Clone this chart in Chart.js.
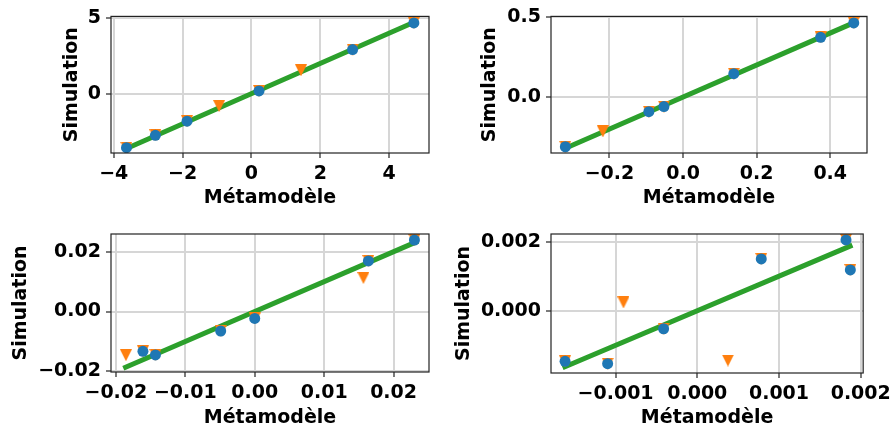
<!DOCTYPE html>
<html>
<head>
<meta charset="utf-8">
<script src="https://cdn.jsdelivr.net/npm/chart.js@4/dist/chart.umd.min.js"></script>
<style>
  body { margin: 0; background: #fff; }
  #wrap { position: relative; width: 896px; height: 430px; }
  #wrap canvas { position: absolute; }
</style>
</head>
<body>
<div id="wrap">
  <canvas id="c1" width="448" height="215" style="left:0;top:0"></canvas>
  <canvas id="c2" width="448" height="215" style="left:448px;top:0"></canvas>
  <canvas id="c3" width="448" height="215" style="left:0;top:215px"></canvas>
  <canvas id="c4" width="448" height="215" style="left:448px;top:215px"></canvas>
</div>
<script>
// ---- panel 1 ----
const p1CircleX = [-3.63, -2.79, -1.87, 0.22, 2.94, 4.72];
const p1CircleY = [-3.57, -2.75, -1.82, 0.18, 2.92, 4.68];
const p1TriX    = [-3.63, -2.79, -1.87, -0.94, 0.22, 1.44, 2.94, 4.72];
const p1TriY    = [-3.57, -2.75, -1.82, -0.82, 0.18, 1.55, 2.92, 4.68];
const p1LineX   = [-3.66, 4.74];
const p1LineY   = [-3.66, 4.74];
const p1XTicks  = [-4, -2, 0, 2, 4];
const p1YTicks  = [0, 5];

// ---- panel 2 ----
const p2CircleX = [-0.320, -0.093, -0.052, 0.138, 0.374, 0.464];
const p2CircleY = [-0.311, -0.092, -0.060, 0.146, 0.373, 0.463];
const p2TriX    = [-0.320, -0.218, -0.093, -0.052, 0.138, 0.374, 0.464];
const p2TriY    = [-0.311, -0.215, -0.092, -0.060, 0.146, 0.373, 0.463];
const p2LineX   = [-0.320, 0.465];
const p2LineY   = [-0.320, 0.465];
const p2XTicks  = [-0.2, 0.0, 0.2, 0.4];
const p2YTicks  = [0.0, 0.5];

// ---- panel 3 ----
const p3CircleX = [-0.0161, -0.0143, -0.0049, 0.0000, 0.01637, 0.0230];
const p3CircleY = [-0.0133, -0.0145, -0.0065, -0.0023, 0.0169, 0.0239];
const p3TriX    = [-0.01855, -0.0161, -0.0143, -0.0049, 0.0000, 0.01565, 0.01637, 0.0230];
const p3TriY    = [-0.0146, -0.0133, -0.0145, -0.0065, -0.0023, 0.0112, 0.0169, 0.0239];
const p3LineX   = [-0.0186, 0.0232];
const p3LineY   = [-0.0186, 0.0232];
const p3XTicks  = [-0.02, -0.01, 0.00, 0.01, 0.02];
const p3YTicks  = [-0.02, 0.00, 0.02];

// ---- panel 4 ----
const p4CircleX = [-0.001618, -0.001097, -0.000412, 0.000783, 0.00182, 0.001873];
const p4CircleY = [-0.001463, -0.00153, -0.00052, 0.00150, 0.00205, 0.00118];
const p4TriX    = [-0.001618, -0.001097, -0.000903, -0.000412, 0.000375, 0.000783, 0.00182, 0.001873];
const p4TriY    = [-0.001463, -0.00153, 0.00024, -0.00052, -0.00144, 0.00150, 0.00205, 0.00118];
const p4LineX   = [-0.00162, 0.00187];
const p4LineY   = [-0.00162, 0.00187];
const p4XTicks  = [-0.001, 0.000, 0.001, 0.002];
const p4YTicks  = [0.000, 0.002];

const xTitle = "Métamodèle";
const yTitle = "Simulation";

const BLUE = "#1f77b4", ORANGE = "#ff7f0e", GREEN = "#2ca02c";
const FONT = 19;

Chart.defaults.font.family = "'DejaVu Sans', sans-serif";
Chart.defaults.font.weight = "bold";
Chart.defaults.font.size = FONT;
Chart.defaults.color = "#000";

// matplotlib-like triangle_down: centred on its bounding box
function triangleDown(size, color) {
  const c = document.createElement("canvas");
  c.width = c.height = size;
  const g = c.getContext("2d");
  g.fillStyle = color;
  g.beginPath();
  g.moveTo(0, 0); g.lineTo(size, 0); g.lineTo(size / 2, size);
  g.closePath(); g.fill();
  return c;
}
const triImg = triangleDown(12, ORANGE);

const pts = (xs, ys) => xs.map((x, i) => ({ x, y: ys[i] }));
const fmt = (d) => (v) => v.toFixed(d).replace("-", "\u2212");

const frame = {
  id: "frame",
  afterDraw(chart) {
    const { ctx, chartArea: a } = chart;
    ctx.save();
    ctx.strokeStyle = "#222";
    ctx.lineWidth = 1.2;
    ctx.strokeRect(a.left, a.top, a.right - a.left, a.bottom - a.top);
    ctx.restore();
  },
};

function panel(id, o) {
  const pad = { left: o.titleX - FONT * 0.6, top: o.area[2], right: 448 - o.area[1], bottom: 215 - (o.titleY + FONT * 0.6) };
  const yW = o.area[0] - pad.left;
  const xH = (215 - pad.bottom) - o.area[3];
  const axis = (ticks, d, min, max, title, fit) => ({
    type: "linear", min, max,
    afterBuildTicks: (s) => { s.ticks = ticks.map((v) => ({ value: v })); },
    afterFit: fit,
    ticks: { autoSkip: false, maxRotation: 0, padding: 5, callback: fmt(d) },
    grid: { color: "#d6d6d6", lineWidth: 2, tickColor: "#222", tickLength: 5, tickWidth: 1.2 },
    border: { display: false },
    title: { display: true, text: title, padding: 0 },
  });
  new Chart(document.getElementById(id), {
    type: "scatter",
    data: {
      datasets: [
        { data: pts(o.lx, o.ly), showLine: true, borderColor: GREEN, borderWidth: 5, borderCapStyle: "square", pointRadius: 0, order: 3 },
        { data: pts(o.tx, o.ty), pointStyle: triImg, pointRadius: 6, backgroundColor: ORANGE, order: 2 },
        { data: pts(o.cx, o.cy), pointStyle: "circle", pointRadius: 5.5, borderWidth: 0, backgroundColor: BLUE, borderColor: BLUE, order: 1 },
      ],
    },
    options: {
      responsive: false, animation: false,
      layout: { padding: pad },
      plugins: { legend: { display: false }, tooltip: { enabled: false } },
      scales: {
        x: axis(o.xt, o.d, o.xr[0], o.xr[1], xTitle, (s) => { s.height = xH; }),
        y: axis(o.yt, o.d, o.yr[0], o.yr[1], yTitle, (s) => { s.width = yW; }),
      },
    },
    plugins: [frame],
  });
}

// area: [left, right, top, bottom] in canvas pixels
panel("c1", { cx: p1CircleX, cy: p1CircleY, tx: p1TriX, ty: p1TriY, lx: p1LineX, ly: p1LineY,
  xt: p1XTicks, yt: p1YTicks, d: 0, xr: [-4.08, 5.16], yr: [-3.92, 5.11],
  area: [111, 429, 14, 153], titleX: 72, titleY: 198 });
panel("c2", { cx: p2CircleX, cy: p2CircleY, tx: p2TriX, ty: p2TriY, lx: p2LineX, ly: p2LineY,
  xt: p2XTicks, yt: p2YTicks, d: 1, xr: [-0.359, 0.50], yr: [-0.35, 0.504],
  area: [103, 419, 14, 153], titleX: 42, titleY: 198 });
panel("c3", { cx: p3CircleX, cy: p3CircleY, tx: p3TriX, ty: p3TriY, lx: p3LineX, ly: p3LineY,
  xt: p3XTicks, yt: p3YTicks, d: 2, xr: [-0.0207, 0.0251], yr: [-0.0202, 0.0259],
  area: [111, 429, 19, 157], titleX: 21, titleY: 203 });
panel("c4", { cx: p4CircleX, cy: p4CircleY, tx: p4TriX, ty: p4TriY, lx: p4LineX, ly: p4LineY,
  xt: p4XTicks, yt: p4YTicks, d: 3, xr: [-0.00179, 0.00203], yr: [-0.0018, 0.00222],
  area: [103, 419, 19, 158], titleX: 16, titleY: 203 });
</script>
</body>
</html>
